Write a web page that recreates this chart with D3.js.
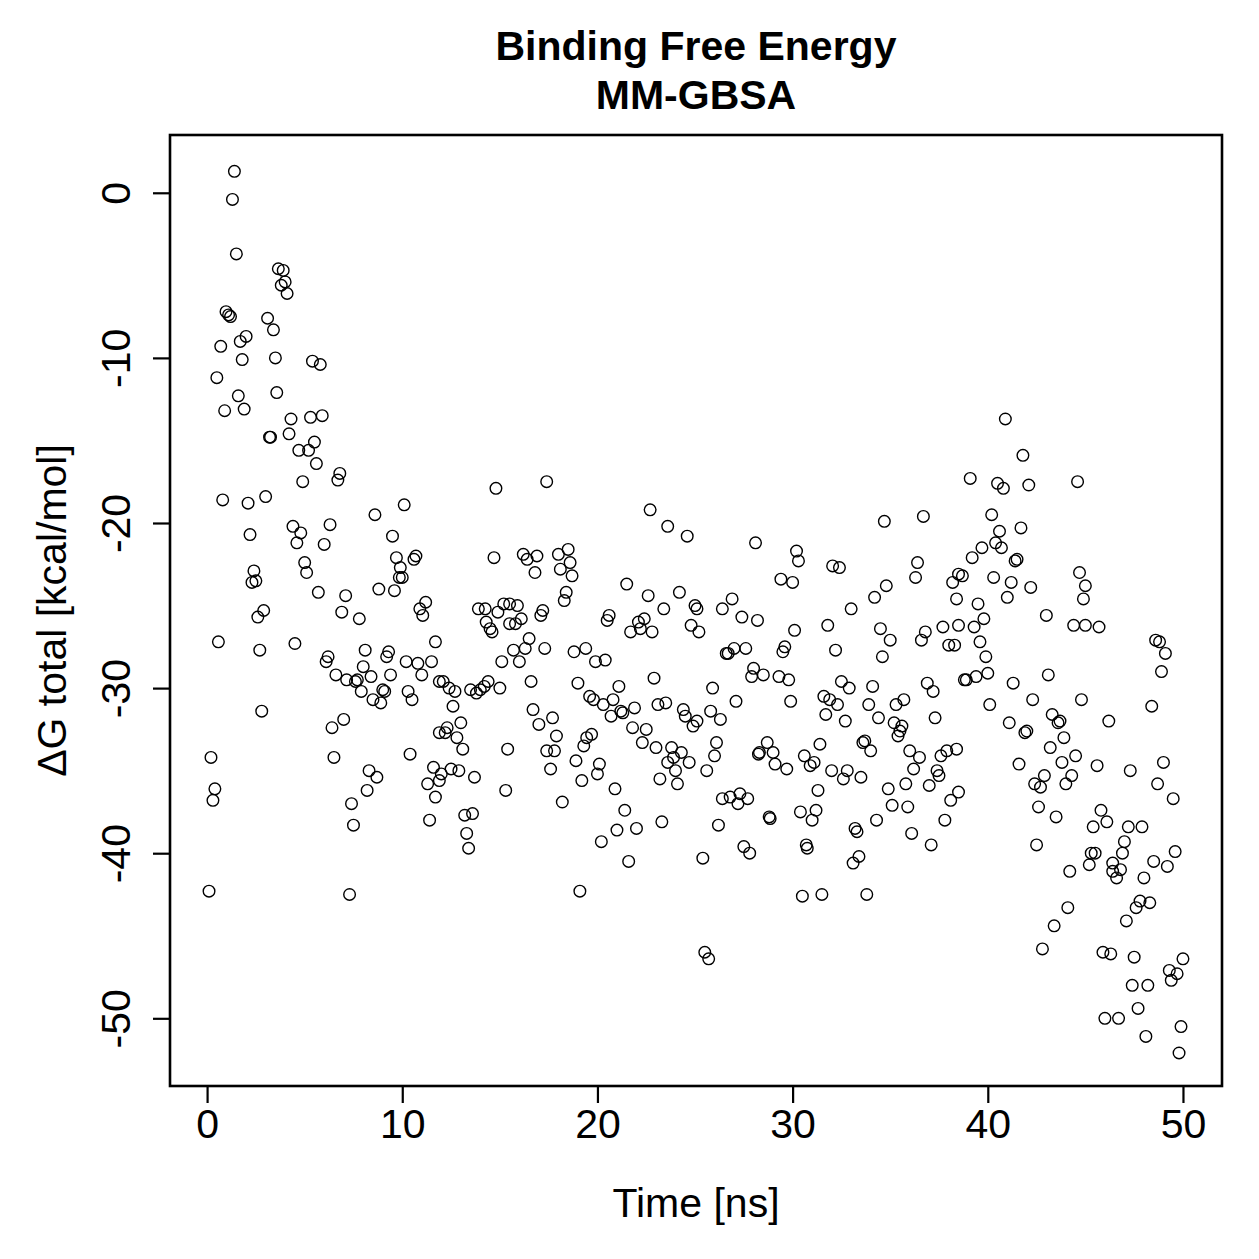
<!DOCTYPE html>
<html>
<head>
<meta charset="utf-8">
<script src="https://cdn.jsdelivr.net/npm/d3@7"></script>
<style>
  body { margin: 0; background: #fff; }
  svg text { font-family: "Liberation Sans", Arial, Helvetica, sans-serif; fill: #000; }
</style>
</head>
<body>
<div class="visHolder"></div>
<script>
const w = 1259, h = 1259;
const box = {left: 170, right: 1222, top: 135, bottom: 1086};

const titleLines = ['Binding Free Energy', 'MM-GBSA'];
const xLabel = 'Time [ns]';
const yLabel = 'ΔG total [kcal/mol]';
const xTicks = [0, 10, 20, 30, 40, 50];
const yTicks = [0, -10, -20, -30, -40, -50];

// time (ns) and dG total (kcal/mol)
const time = [
  1.4,1.3,1.5,3.65,3.9,3.8,4.0,4.1,0.97,1.1,1.2,3.1,3.4,2.0,1.7,0.7,1.8,3.5,5.4,5.8,
  0.5,3.57,1.6,0.9,1.9,4.3,5.3,5.9,3.2,3.25,4.2,5.5,5.2,4.7,5.6,6.8,6.7,4.9,0.8,2.1,
  3.0,10.1,8.6,9.5,2.2,4.4,4.8,4.6,6.3,6.0,9.7,10.6,10.7,9.9,9.85,10.0,9.6,2.4,2.3,2.5,
  5.0,5.1,5.7,7.1,8.8,11.2,10.9,11.05,2.9,2.6,6.9,7.8,
  0.58,2.7,4.5,11.7,6.2,6.1,8.1,9.3,9.2,8.0,8.4,7.7,7.6,7.9,6.6,7.15,9.4,9.0,9.1,8.5,
  8.9,10.2,10.8,11.5,11.0,10.3,10.5,11.9,2.8,6.4,7.0,11.9,0.2,6.5,10.4,8.3,8.7,8.2,11.6,11.3,
  11.9,11.7,0.4,0.3,7.4,7.5,11.4,0.1,7.3,
  14.8,17.4,22.7,23.6,24.6,14.7,16.2,16.4,16.9,16.8,18.0,18.5,18.6,18.1,18.7,18.4,18.3,21.5,22.6,24.2,
  23.4,25.0,25.1,
  13.9,14.25,14.9,15.2,15.5,15.9,14.3,14.5,14.6,15.5,15.8,16.1,17.2,17.1,20.6,20.5,22.1,22.4,22.2,21.7,
  22.8,24.8,25.2,15.7,16.3,16.5,17.3,16.0,15.1,18.8,19.4,19.9,20.4,22.9,12.1,12.4,12.7,13.5,13.8,14.0,
  14.2,14.4,15.0,16.6,19.0,19.6,19.8,20.3,20.8,21.1,20.7,21.2,21.3,21.9,23.1,23.5,24.4,24.5,24.9,25.1,
  12.6,16.7,17.0,17.7,17.9,13.0,12.3,12.2,12.8,13.1,15.4,17.4,17.8,19.45,19.7,19.3,21.8,22.5,22.3,23.0,
  23.8,24.3,23.9,23.6,24.0,24.1,24.7,23.2,12.0,12.5,12.9,13.7,15.3,17.6,18.9,20.1,20.0,19.2,20.9,18.2,
  13.2,13.6,13.3,13.4,21.4,21.0,22.0,20.2,21.6,23.3,19.1,
  28.1,34.7,36.7,30.2,30.3,32.05,32.4,36.4,36.3,29.4,30.0,34.8,34.2,33.0,38.2,38.5,38.4,26.4,26.9,27.4,
  28.2,
  30.1,31.8,34.5,35.0,34.6,36.8,36.6,37.7,38.0,38.3,38.5,32.2,26.6,26.7,27.0,27.6,29.6,29.5,28.0,27.9,
  28.5,29.3,29.8,25.9,27.1,29.9,32.5,32.9,34.1,36.9,37.2,31.6,31.9,32.3,31.7,32.7,33.9,34.4,35.3,35.7,
  37.3,35.2,35.6,35.5,35.4,25.8,26.3,26.1,26.0,25.6,28.7,28.3,28.25,29.0,29.1,29.7,31.4,30.6,30.9,31.1,
  32.0,32.8,32.6,33.5,33.6,33.7,34.0,36.0,36.5,36.2,37.6,37.9,38.4,37.4,37.5,37.0,35.8,34.9,38.5,26.4,
  26.8,27.3,27.2,27.7,28.8,28.85,30.4,31.2,31.0,31.3,34.3,35.1,35.9,36.1,37.1,37.8,38.1,26.2,25.4,27.5,
  27.8,30.7,30.75,33.2,33.3,33.4,33.1,30.5,31.5,33.8,25.5,25.7,
  40.9,41.8,39.1,40.5,40.8,42.1,44.6,40.2,40.6,41.7,40.4,40.7,39.7,39.2,41.4,41.5,38.7,40.3,41.2,41.0,
  42.2,39.5,44.7,45.0,44.9,43.0,39.8,
  44.4,45.0,45.7,39.3,39.6,39.9,40.0,39.4,38.9,38.8,41.3,43.1,40.1,42.3,44.8,41.1,41.9,42.0,43.3,43.6,
  43.7,43.9,46.2,43.2,44.5,43.8,41.6,45.6,47.3,49.0,42.9,42.4,42.7,44.3,44.0,48.7,49.5,42.6,43.5,45.8,
  46.1,45.4,47.2,47.9,42.5,47.0,46.9,45.3,45.5,45.2,44.2,46.4,46.4,46.8,46.6,48.0,48.5,49.2,49.6,44.1,
  43.4,42.8,47.8,47.6,48.3,47.1,45.9,46.3,47.5,50.0,49.3,49.7,49.4,47.4,48.2,47.7,46.0,46.7,49.9,48.1,
  49.8,48.6,48.8,49.1,48.9,48.4
];
const dG = [
  1.3,-0.4,-3.7,-4.6,-4.7,-5.6,-5.4,-6.1,-7.2,-7.4,-7.5,-7.6,-8.3,-8.7,-9.0,-9.3,-10.1,-10.0,-10.2,-10.4,
  -11.2,-12.1,-12.3,-13.2,-13.1,-13.7,-13.6,-13.5,-14.8,-14.8,-14.6,-15.1,-15.6,-15.6,-16.4,-17.0,-17.4,-17.5,-18.6,-18.8,
  -18.4,-18.9,-19.5,-20.8,-20.7,-20.2,-20.6,-21.2,-20.1,-21.3,-22.1,-22.2,-22.0,-22.7,-23.3,-23.3,-24.1,-22.9,-23.6,-23.5,
  -22.4,-23.0,-24.2,-24.4,-24.0,-24.8,-25.2,-25.6,-25.3,-25.7,-25.4,-25.8,
  -27.2,-27.7,-27.3,-27.2,-28.1,-28.4,-27.7,-27.8,-28.1,-28.7,-29.3,-29.5,-29.6,-30.2,-29.2,-29.5,-29.2,-30.1,-30.2,-30.7,
  -30.9,-28.4,-28.5,-28.4,-29.2,-30.2,-30.7,-29.6,-31.4,-32.4,-31.9,-32.7,-34.2,-34.2,-34.0,-35.0,-35.4,-36.2,-34.8,-35.8,
  -35.6,-36.6,-36.1,-36.8,-37.0,-38.3,-38.0,-42.3,-42.5,
  -17.9,-17.5,-19.2,-20.2,-20.8,-22.1,-21.9,-22.2,-22.0,-23.0,-21.9,-21.6,-22.4,-22.8,-23.2,-24.2,-24.7,-23.7,-24.4,-24.2,
  -25.2,-25.0,-25.2,
  -25.2,-25.2,-25.4,-24.9,-24.9,-25.0,-26.0,-26.4,-26.6,-26.1,-26.1,-25.8,-25.3,-25.6,-25.6,-25.9,-26.0,-25.8,-26.4,-26.6,
  -26.6,-26.2,-26.6,-27.7,-27.6,-27.0,-27.6,-28.4,-28.4,-27.8,-27.6,-28.4,-28.3,-29.4,-29.6,-30.0,-30.2,-30.1,-30.3,-30.1,
  -29.9,-29.6,-30.0,-29.6,-29.7,-30.5,-30.7,-31.0,-30.7,-29.9,-31.7,-31.4,-31.5,-31.2,-31.0,-30.9,-31.3,-31.7,-32.3,-32.0,
  -31.1,-31.3,-32.2,-31.8,-32.9,-32.1,-32.4,-32.7,-33.0,-33.7,-33.7,-33.8,-33.8,-33.0,-32.8,-33.5,-32.4,-32.5,-33.3,-33.6,
  -33.6,-33.9,-34.2,-34.5,-35.0,-35.8,-34.5,-35.5,-35.2,-34.9,-35.0,-35.4,-36.2,-34.9,-34.4,-34.6,-35.2,-35.6,-36.1,-36.9,
  -37.7,-37.6,-38.8,-39.7,-37.4,-38.6,-38.5,-39.3,-40.5,-38.1,-42.3,
  -21.2,-19.9,-19.6,-21.7,-22.3,-22.6,-22.7,-22.4,-23.3,-23.4,-23.6,-23.8,-24.5,-25.2,-23.6,-23.1,-24.6,-25.2,-24.6,-25.7,
  -25.9,
  -26.5,-26.2,-26.4,-27.1,-28.1,-26.6,-27.1,-26.3,-27.4,-27.4,-26.2,-27.7,-27.9,-27.9,-27.6,-27.6,-27.5,-27.8,-28.8,-29.3,
  -29.2,-29.3,-29.5,-30.0,-30.8,-30.8,-29.6,-30.0,-29.9,-29.7,-30.2,-30.5,-30.7,-31.0,-31.6,-32.0,-31.0,-31.8,-31.0,-30.7,
  -31.8,-32.1,-32.3,-32.6,-32.9,-31.4,-31.9,-33.3,-34.1,-35.0,-33.3,-33.9,-34.0,-33.9,-34.6,-34.9,-33.4,-34.1,-34.7,-34.5,
  -35.0,-35.0,-35.5,-35.4,-33.3,-33.2,-33.8,-33.8,-34.2,-34.9,-34.1,-33.8,-33.7,-35.0,-35.3,-35.9,-35.8,-36.1,-36.3,-36.7,
  -36.6,-36.4,-37.0,-36.7,-37.8,-37.9,-37.5,-37.4,-38.0,-36.2,-38.0,-37.1,-37.2,-38.8,-39.5,-38.0,-36.8,-38.3,-40.3,-39.6,
  -40.0,-39.5,-39.7,-38.5,-38.7,-40.2,-40.6,-42.6,-42.5,-42.5,-46.0,-46.4,
  -13.7,-15.9,-17.3,-17.6,-17.9,-17.7,-17.5,-19.5,-20.5,-20.3,-21.2,-21.5,-21.5,-22.1,-22.3,-22.2,-23.2,-23.3,-23.6,-24.5,
  -23.9,-24.9,-23.0,-23.8,-24.6,-25.6,-25.8,
  -26.2,-26.2,-26.3,-26.3,-27.2,-28.1,-29.1,-29.3,-29.5,-29.5,-29.7,-29.2,-31.0,-30.7,-30.7,-32.1,-32.7,-32.6,-31.6,-32.1,
  -32.0,-33.0,-32.0,-33.6,-34.1,-34.5,-34.6,-34.7,-35.0,-34.5,-35.3,-35.8,-36.0,-35.3,-35.8,-35.8,-36.7,-37.2,-37.8,-37.4,
  -38.1,-38.4,-38.4,-38.4,-39.5,-39.3,-40.0,-40.0,-40.0,-40.7,-41.1,-40.6,-41.1,-41.0,-41.5,-41.5,-40.5,-40.8,-39.9,-43.3,
  -44.4,-45.8,-42.9,-43.3,-43.0,-44.1,-46.0,-46.1,-46.3,-46.4,-47.1,-47.3,-47.7,-48.0,-48.0,-49.4,-50.0,-50.0,-50.5,-51.1,
  -52.1,-27.1,-27.2,-27.9,-29.0,-31.1
];

const dataset = time.map((t, i) => ({t: t, g: dG[i]}));

const svg = d3.select('.visHolder')
  .append('svg')
  .attr('width', w)
  .attr('height', h);

const xScale = d3.scaleLinear().domain([-1.9, 52.0]).range([box.left, box.right]);
const yScale = d3.scaleLinear().domain([-54.1, 3.5]).range([box.bottom, box.top]);

// points, R style open circles
svg.append('g')
  .selectAll('circle')
  .data(dataset)
  .enter()
  .append('circle')
  .attr('cx', d => xScale(d.t))
  .attr('cy', d => yScale(d.g))
  .attr('r', 5.8)
  .attr('fill', 'none')
  .attr('stroke', '#000')
  .attr('stroke-width', 1.4);

const fs = 41;
// plain hyphen for negatives, as R prints them
const fmt = d => String(d);

// x axis
const xAxis = d3.axisBottom(xScale).tickValues(xTicks).tickFormat(fmt).tickSize(17).tickPadding(6).tickSizeOuter(0);
const gx = svg.append('g')
  .attr('transform', `translate(0, ${box.bottom})`)
  .call(xAxis);
gx.select('.domain').remove();
gx.selectAll('line').attr('stroke', '#000').attr('stroke-width', 2.2);
gx.selectAll('text').style('font-size', fs + 'px').attr('font-family', null);

// y axis, labels turned like R's las=0
const yAxis = d3.axisLeft(yScale).tickValues(yTicks).tickFormat(fmt).tickSize(17).tickSizeOuter(0);
const gy = svg.append('g')
  .attr('transform', `translate(${box.left}, 0)`)
  .call(yAxis);
gy.select('.domain').remove();
gy.selectAll('line').attr('stroke', '#000').attr('stroke-width', 2.2);
gy.selectAll('text')
  .attr('x', 0).attr('y', 0).attr('dy', null)
  .attr('transform', `translate(${130 - box.left}, 0) rotate(-90)`)
  .attr('text-anchor', 'middle')
  .style('font-size', fs + 'px');

// box
svg.append('rect')
  .attr('x', box.left)
  .attr('y', box.top)
  .attr('width', box.right - box.left)
  .attr('height', box.bottom - box.top)
  .attr('fill', 'none')
  .attr('stroke', '#000')
  .attr('stroke-width', 2.6);

const cx = (box.left + box.right) / 2;
const cy = (box.top + box.bottom) / 2;

svg.selectAll('.title')
  .data(titleLines)
  .enter()
  .append('text')
  .attr('class', 'title')
  .attr('x', cx)
  .attr('y', (d, i) => 60 + i * 49)
  .attr('text-anchor', 'middle')
  .style('font-size', fs + 'px')
  .style('font-weight', 'bold')
  .text(d => d);

svg.append('text')
  .attr('x', cx)
  .attr('y', 1217)
  .attr('text-anchor', 'middle')
  .style('font-size', fs + 'px')
  .text(xLabel);

svg.append('text')
  .attr('transform', `translate(66, ${cy}) rotate(-90)`)
  .attr('text-anchor', 'middle')
  .style('font-size', fs + 'px')
  .text(yLabel);
</script>
</body>
</html>
